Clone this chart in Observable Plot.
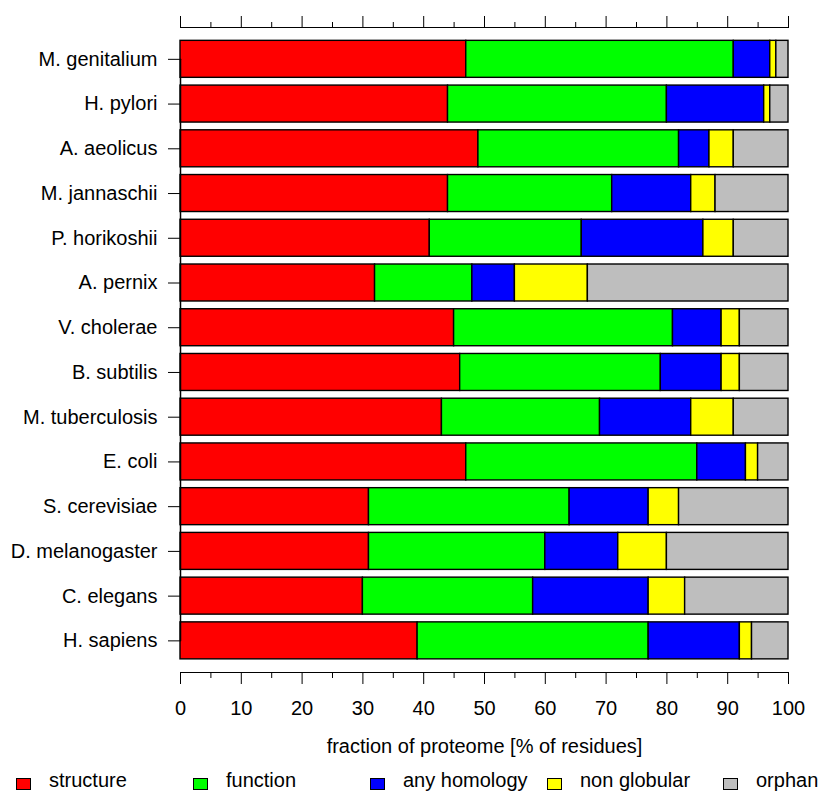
<!DOCTYPE html>
<html>
<head>
<meta charset="utf-8">
<script src="https://cdn.jsdelivr.net/npm/d3@7"></script>
<script src="https://cdn.jsdelivr.net/npm/@observablehq/plot@0.6"></script>
<style>
  body { margin: 0; background: #fff; font-family: "Liberation Sans", Arial, sans-serif; }
  #chart svg { display: block; }
  #legend { position: relative; width: 822px; height: 27px; font-size: 20px; line-height: 17px; color: #000; }
  .item { position: absolute; top: 7px; height: 17px; display: flex; align-items: center; white-space: nowrap; }
  .sw { width: 15px; height: 12px; border: 1px solid #000; box-sizing: border-box; margin-right: 18px; position: relative; top: 3px; }
</style>
</head>
<body>
<div id="chart"></div>
<div id="legend"></div>
<script>
const species = ["M. genitalium","H. pylori","A. aeolicus","M. jannaschii","P. horikoshii","A. pernix","V. cholerae","B. subtilis","M. tuberculosis","E. coli","S. cerevisiae","D. melanogaster","C. elegans","H. sapiens"];
const categories = ["structure","function","any homology","non globular","orphan"];
const colors = ["#ff0000","#00ff00","#0000ff","#ffff00","#bebebe"];
const structure   = [47,44,49,44,41,32,45,46,43,47,31,31,30,39];
const func        = [44,36,33,27,25,16,36,33,26,38,33,29,28,38];
const homology    = [6,16,5,13,20,7,8,10,15,8,13,12,19,15];
const nonGlobular = [1,1,4,4,5,12,3,3,7,2,5,8,6,2];
const orphan      = [2,3,9,12,9,33,8,8,9,5,18,20,17,6];
const xTicks = [0,10,20,30,40,50,60,70,80,90,100];
const xMinorTicks = [5,15,25,35,45,55,65,75,85,95];
const legendLeft = [16,193,370,547,723];

const series = [structure, func, homology, nonGlobular, orphan];
const rows = species.flatMap((s, i) => series.map((arr, j) => ({species: s, category: categories[j], value: arr[i]})));

const chart = Plot.plot({
  width: 822, height: 765,
  marginLeft: 180, marginRight: 34, marginTop: 27, marginBottom: 93,
  style: {fontSize: "20px", fontFamily: "Liberation Sans, Arial, sans-serif", color: "#000", background: "#fff"},
  x: {domain: [0, 100]},
  y: {domain: species, padding: 0.173, insetTop: 5.6, insetBottom: 5.4, round: false},
  color: {domain: categories, range: colors},
  marks: [
    Plot.barX(rows, Plot.stackX({order: categories}, {x: "value", y: "species", fill: "category", z: "category", stroke: "#000", strokeWidth: 1.4})),
    Plot.lineX(species, {x: () => 0, y: d => d, stroke: "#000"}),
    Plot.frame({anchor: "top"}),
    Plot.frame({anchor: "bottom"}),
    Plot.axisX(xTicks, {anchor: "top", tickSize: 12, tickFormat: () => "", label: null}),
    Plot.axisX(xMinorTicks, {anchor: "top", tickSize: 6, tickFormat: () => "", label: null}),
    Plot.axisX(xTicks, {anchor: "bottom", tickSize: 12, tickPadding: 16, label: "fraction of proteome [% of residues]", labelAnchor: "center", labelArrow: "none", labelOffset: 80}),
    Plot.axisX(xMinorTicks, {anchor: "bottom", tickSize: 6, tickFormat: () => "", label: null}),
    Plot.axisY({tickSize: 12, tickPadding: 11, label: null})
  ]
});
document.getElementById("chart").appendChild(chart);

const legend = document.getElementById("legend");
categories.forEach((c, i) => {
  const item = document.createElement("div");
  item.className = "item";
  item.style.left = legendLeft[i] + "px";
  const sw = document.createElement("span");
  sw.className = "sw";
  sw.style.background = colors[i];
  const t = document.createElement("span");
  t.textContent = c;
  item.appendChild(sw);
  item.appendChild(t);
  legend.appendChild(item);
});
</script>
</body>
</html>
